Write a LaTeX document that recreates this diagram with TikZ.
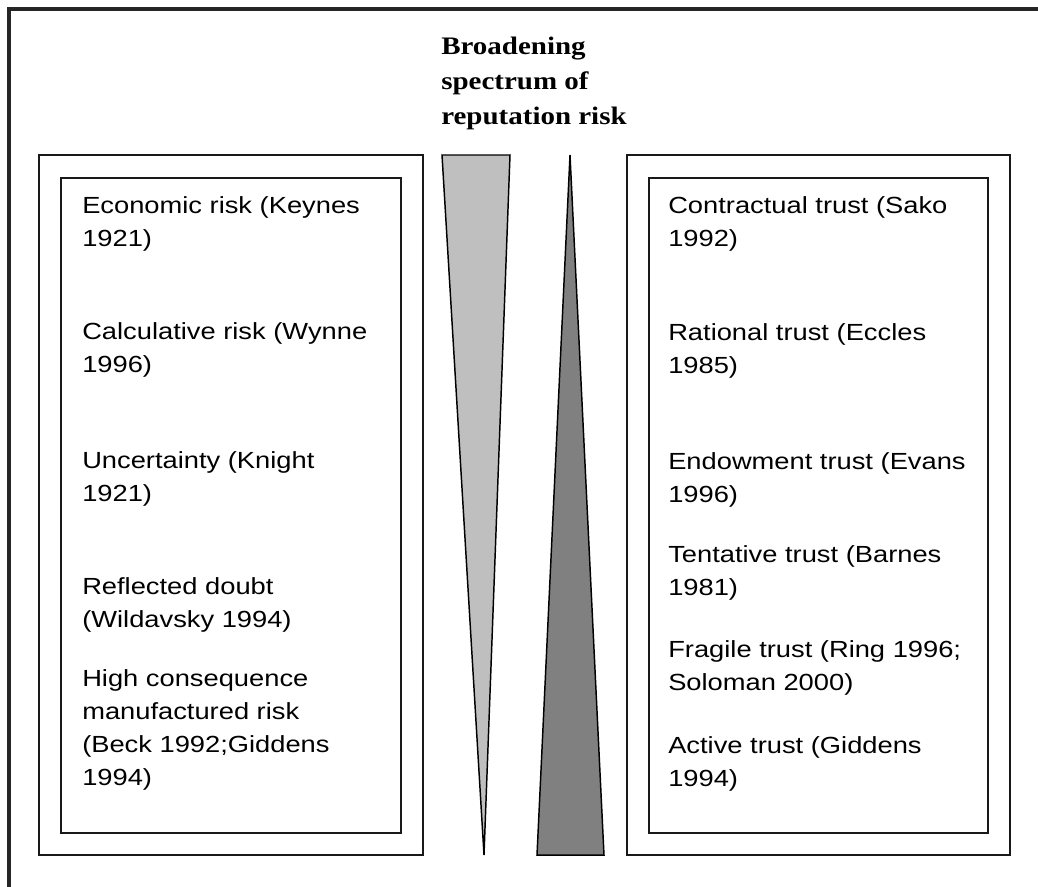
\documentclass[tikz,border=0pt]{standalone}
\usepackage{fontspec}
\newfontfamily\bodyfont[FakeStretch=1.17]{Liberation Sans}
\newfontfamily\headfont[FakeStretch=1.15]{Liberation Serif}
\tikzset{
  frame/.style={line width=2.6pt, draw=black!85},
  boxline/.style={line width=1.3pt, draw=black!90},
  wedge/.style={line width=1.1pt, draw=black},
  entry/.style={anchor=base west, align=left, inner sep=0pt, font=\bodyfont\fontsize{17.5}{24.6}\selectfont},
  heading/.style={anchor=base west, align=left, inner sep=0pt, font=\headfont\bfseries\fontsize{18.9}{25.9}\selectfont}
}
\begin{document}
\begin{tikzpicture}[x=0.75pt,y=-0.75pt]
\useasboundingbox (0,0) rectangle (1038,886);
% outer frame (only top and left visible)
\draw[frame] (1045,9) -- (9,9) -- (9,895);
% heading (anchored at the baseline of its last line)
\node[heading] (title) at (441,124) {Broadening\\spectrum of\\reputation risk};
% left boxes
\draw[boxline] (39,155) rectangle (423,855);
\draw[boxline] (61,178) rectangle (401,833);
% right boxes
\draw[boxline] (627,155) rectangle (1010,855);
\draw[boxline] (649,178) rectangle (988,833);
% wedges
\filldraw[wedge, fill=black!25] (442,155) -- (510,155) -- (484,855) -- cycle;
\filldraw[wedge, fill=black!50] (570,155) -- (604,855) -- (537,855) -- cycle;
% left entries (anchored at the baseline of their last line)
\node[entry] (l1) at (82,246) {Economic risk (Keynes\\1921)};
\node[entry] (l2) at (82,372) {Calculative risk (Wynne\\1996)};
\node[entry] (l3) at (82,501) {Uncertainty (Knight\\1921)};
\node[entry] (l4) at (82,627) {Reflected doubt\\(Wildavsky 1994)};
\node[entry] (l5) at (82,785) {High consequence\\manufactured risk\\(Beck 1992;Giddens\\1994)};
% right entries
\node[entry] (r1) at (668,246) {Contractual trust (Sako\\1992)};
\node[entry] (r2) at (668,373) {Rational trust (Eccles\\1985)};
\node[entry] (r3) at (668,502) {Endowment trust (Evans\\1996)};
\node[entry] (r4) at (668,595) {Tentative trust (Barnes\\1981)};
\node[entry] (r5) at (668,690) {Fragile trust (Ring 1996;\\Soloman 2000)};
\node[entry] (r6) at (668,786) {Active trust (Giddens\\1994)};
\end{tikzpicture}
\end{document}
